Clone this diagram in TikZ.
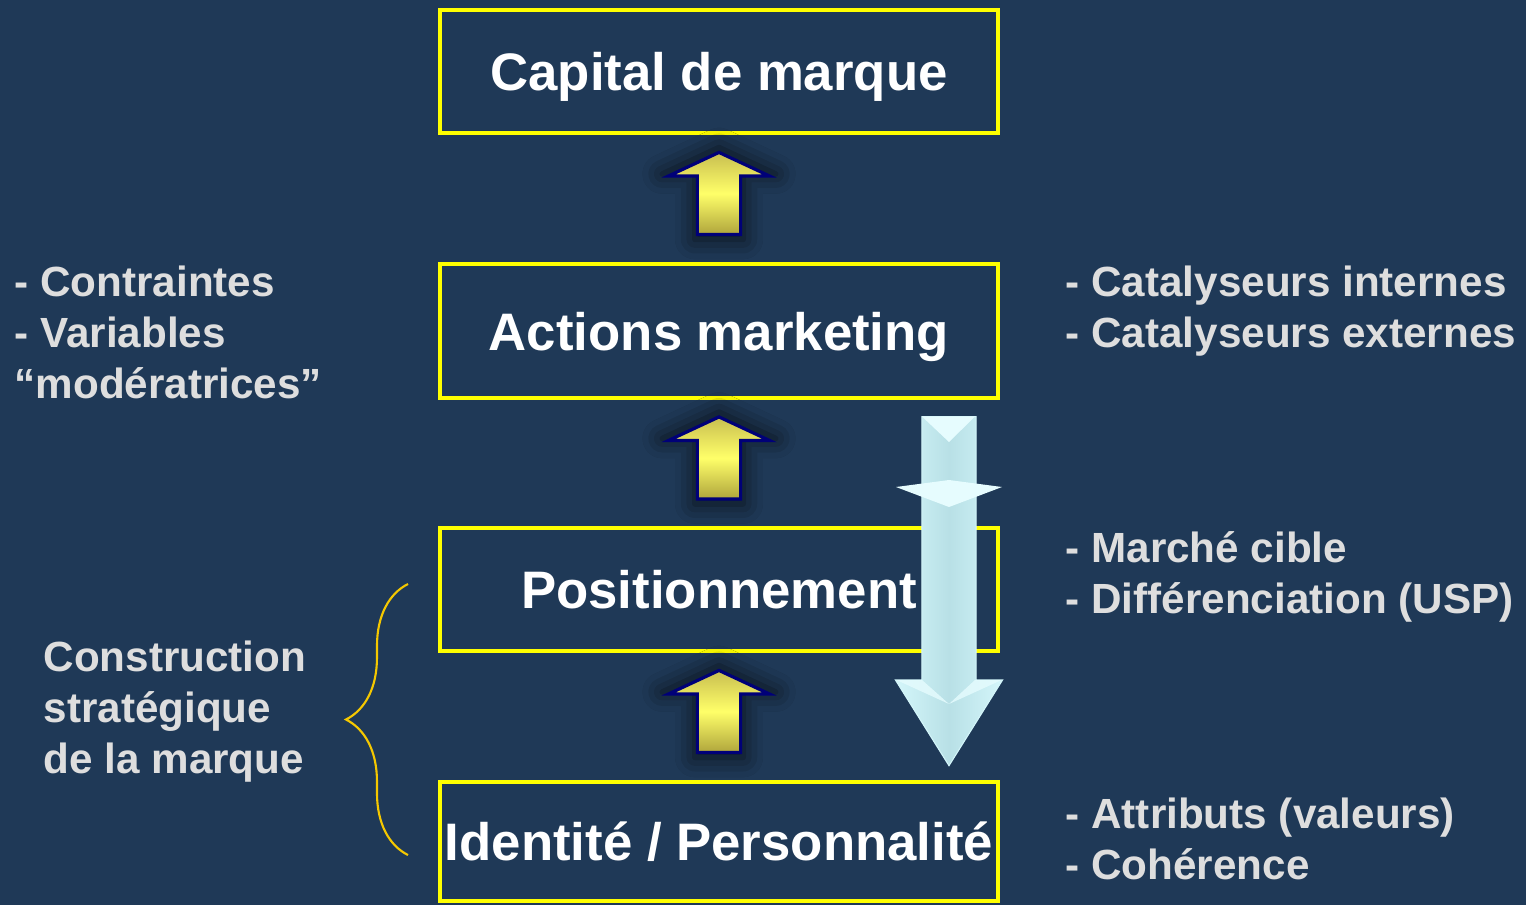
\documentclass[tikz,border=0pt]{standalone}
\usepackage{fontspec}
\setmainfont{Liberation Sans}
\usetikzlibrary{positioning}
\usetikzlibrary{calc}
\usetikzlibrary{shapes.arrows}
\usetikzlibrary{shadows.blur}
\usetikzlibrary{decorations.pathreplacing}

\definecolor{navybg}{RGB}{31,57,87}
\definecolor{boxyellow}{RGB}{255,255,0}
\definecolor{bracegold}{RGB}{245,200,0}
\definecolor{sidegray}{RGB}{222,222,222}
\definecolor{goldlight}{RGB}{255,255,105}
\definecolor{goldtop}{RGB}{200,190,80}
\definecolor{goldlow}{RGB}{175,165,60}
\definecolor{arrowedge}{RGB}{0,0,120}
\definecolor{icecyan}{RGB}{184,224,230}
\definecolor{iceedge}{RGB}{212,246,250}
\definecolor{icelight}{RGB}{230,252,254}

\tikzset{
  levelbox/.style={draw=boxyellow, line width=1.15pt, minimum width=5.58cm,
    inner sep=0pt, text=white, text height=10.8pt, text depth=0pt,
    font=\fontsize{15}{18}\selectfont\bfseries},
  uparrow/.style={single arrow, draw=arrowedge, line width=0.9pt, rotate=90,
    minimum height=0.82cm, inner xsep=0pt, inner ysep=0.2cm,
    single arrow head extend=0.29cm, single arrow tip angle=130,
    top color=goldtop, bottom color=goldlow, middle color=goldlight,
    blur shadow={shadow xshift=0pt, shadow yshift=0pt, shadow scale=1.12,
      shadow blur radius=5pt, shadow opacity=70}},
  sidetext/.style={text=sidegray, font=\fontsize{12}{14.4}\selectfont\bfseries,
    align=left, anchor=base west, inner sep=0pt},
}

\begin{document}
\begin{tikzpicture}[x=0.01cm, y=-0.01cm]

% background
\fill[navybg] (0,0) rectangle (1526,905);
\useasboundingbox (0,0) rectangle (1526,905);

%---------------------------------------
% The four levels
%---------------------------------------
\node[levelbox, minimum height=1.23cm] (capital)  at (719,71.5)  {Capital de marque};
\node[levelbox, minimum height=1.34cm] (actions)  at (719,331)   {Actions marketing};
\node[levelbox, minimum height=1.23cm] (position) at (719,589.5) {Positionnement};
\node[levelbox, minimum height=1.19cm] (identite) at (719,841.5) {Identit\'e / Personnalit\'e};

% yellow arrows between levels
\node[uparrow] (up1) at ($(actions.north)!0.5!(capital.south)$) {};
\node[uparrow] (up2) at ($(position.north)!0.5!(actions.south)$) {};
\node[uparrow] (up3) at ($(identite.north)!0.5!(position.south)$) {};

%---------------------------------------
% Downward arrow (deployment)
%---------------------------------------
\node[single arrow, rotate=-90, anchor=tail, minimum height=3.49cm,
      inner xsep=0pt, inner ysep=0.265cm, single arrow head extend=0.265cm,
      single arrow tip angle=64, draw=iceedge, line width=0.3pt,
      left color=iceedge, right color=iceedge, middle color=icecyan]
      (deploy) at (949,416) {};
% highlights on the arrow
\fill[icelight] (922,416.5) -- (975,416.5) -- (949,442) -- cycle;
\fill[icelight] (896,487) -- (949,480) -- (1002,487) -- (949,507) -- cycle;
\fill[icelight, opacity=0.8] (896.5,680) -- (922,680) -- (949,704) -- cycle;
\fill[icelight, opacity=0.8] (1001.5,680) -- (975,680) -- (949,704) -- cycle;

%---------------------------------------
% Side notes (anchored on their last line)
%---------------------------------------
\node[sidetext] (moderators) at (14,398)
  {- Contraintes\\- Variables\\``mod\'eratrices''};
\node[sidetext] (catalysts) at (1065,347)
  {- Catalyseurs internes\\- Catalyseurs externes};
\node[sidetext] (target) at (1065,613)
  {- March\'e cible\\- Diff\'erenciation (USP)};
\node[sidetext] (attributes) at (1065,879)
  {- Attributs (valeurs)\\- Coh\'erence};
\node[sidetext] (building) at (43,773)
  {Construction\\strat\'egique\\de la marque};

% brace over the two lower levels
\coordinate (bracelow) at (408,855);
\coordinate (bracehigh) at (408,584);
\draw[bracegold, line width=0.6pt, decorate,
      decoration={brace, amplitude=0.62cm}] (bracelow) -- (bracehigh);

\end{tikzpicture}
\end{document}
